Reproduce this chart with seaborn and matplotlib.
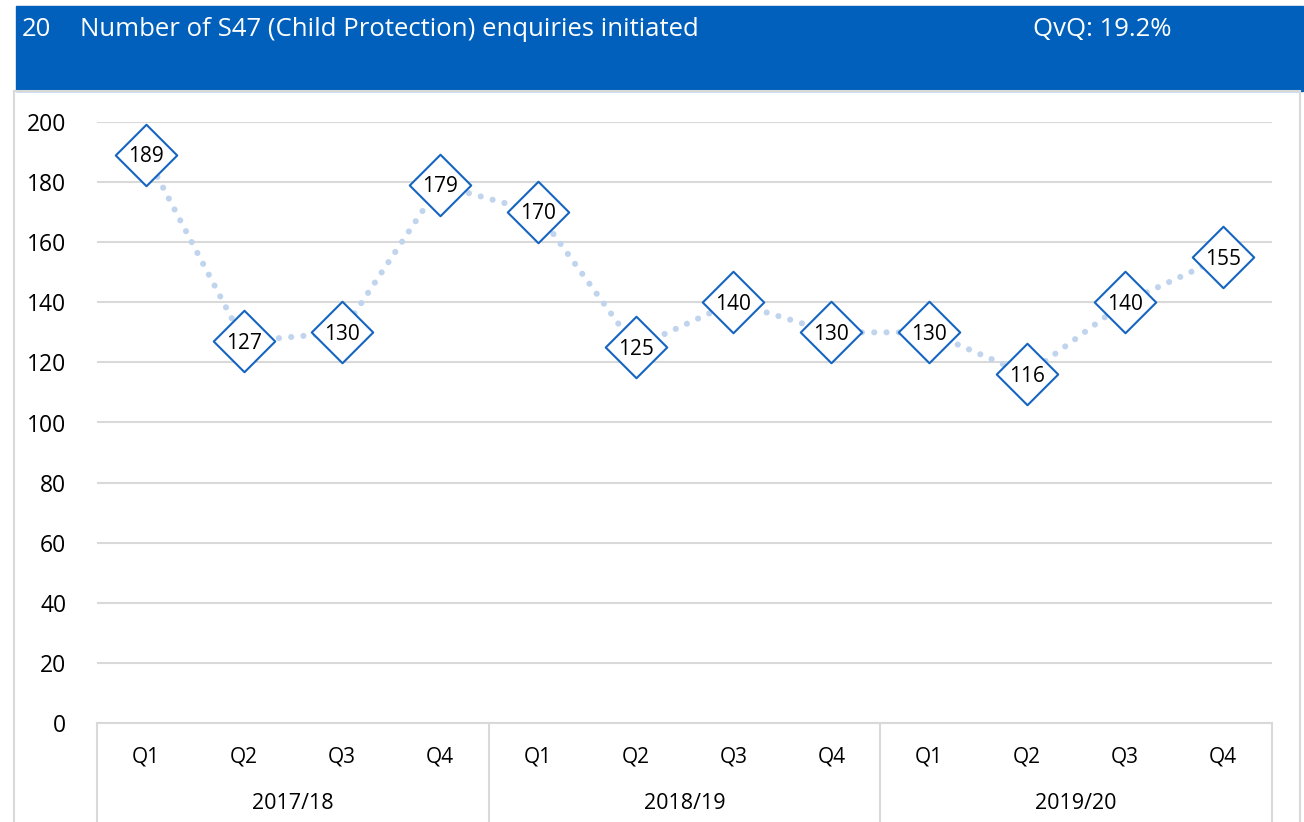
import numpy as np
import pandas as pd
import seaborn as sns
import matplotlib.pyplot as plt
from matplotlib.patches import Rectangle

years = ['2017/18', '2018/19', '2019/20']
quarters = ['Q1', 'Q2', 'Q3', 'Q4']
values = [189, 127, 130, 179, 170, 125, 140, 130, 130, 116, 140, 155]
title_no = '20'
title = 'Number of S47 (Child Protection) enquiries initiated'
qvq = 'QvQ: 19.2%'

df = pd.DataFrame({
    'pos': np.arange(len(values)),
    'quarter': quarters * len(years),
    'year': np.repeat(years, len(quarters)),
    'value': values,
})

sns.set_style('white')
plt.rcParams['font.family'] = ['Open Sans', 'DejaVu Sans']

W, H = 1304, 822
fig = plt.figure(figsize=(W / 100, H / 100), dpi=100)

# header band and outer frame
fig.patches.append(Rectangle((16 / W, 1 - 91 / H), (1303 - 16) / W, 85 / H,
                             transform=fig.transFigure, color='#0060BB', zorder=0))
fig.patches.append(Rectangle((14 / W, -0.01), (1300 - 14) / W, 1 - 91 / H + 0.01,
                             transform=fig.transFigure, facecolor='none',
                             edgecolor='#d9d9d9', lw=1.5, zorder=0))
fig.text(22 / W, 1 - 29 / H, title_no, color='white', fontsize=18.5, va='center')
fig.text(80 / W, 1 - 29 / H, title, color='white', fontsize=18.5, va='center')
fig.text(1033 / W, 1 - 29 / H, qvq, color='white', fontsize=18.5, va='center')

ax = fig.add_axes([97 / W, 1 - 723 / H, (1272 - 97) / W, (723 - 122) / H])

sns.lineplot(data=df, x='pos', y='value', ax=ax, color='#c0d4ee', lw=4.4,
             linestyle=(0, (0.01, 2.0)), dash_capstyle='round', zorder=2)
sns.scatterplot(data=df, x='pos', y='value', ax=ax, marker='D', s=980,
                facecolor='white', edgecolor='#1565c0', linewidth=1.5,
                zorder=3, clip_on=False)
for _, r in df.iterrows():
    ax.text(r['pos'], r['value'] - 0.6, str(r['value']), ha='center', va='center',
            fontsize=15, color='black', zorder=4)

ax.set_xlim(-0.5, len(values) - 0.5)
ax.set_ylim(0, 200)
ax.set_yticks(range(0, 201, 20))
ax.tick_params(axis='y', labelsize=16.5, length=0, pad=22, labelcolor='black')
ax.yaxis.grid(True, color='#d9d9d9', lw=1.5)
ax.set_axisbelow(True)
for s in ['top', 'right', 'left']:
    ax.spines[s].set_visible(False)
ax.spines['bottom'].set_color('#d9d9d9')
ax.spines['bottom'].set_linewidth(1.5)
ax.set_xlabel('')
ax.set_ylabel('')

ax.set_xticks(df['pos'])
ax.set_xticklabels(df['quarter'], fontsize=15)
ax.tick_params(axis='x', length=0, pad=17, labelcolor='black')

# year group labels and separators
trans = ax.get_xaxis_transform()
px = 1 / (723 - 122)
for i, yr in enumerate(years):
    ax.text(i * 4 + 1.5, -80 * px, yr, transform=trans, ha='center', va='center',
            fontsize=15.5, color='black')
for b in range(len(years) + 1):
    ax.plot([b * 4 - 0.5] * 2, [0, -110 * px], transform=trans, color='#d9d9d9',
            lw=1.5, clip_on=False)

fig.savefig('out.png', dpi=100)
